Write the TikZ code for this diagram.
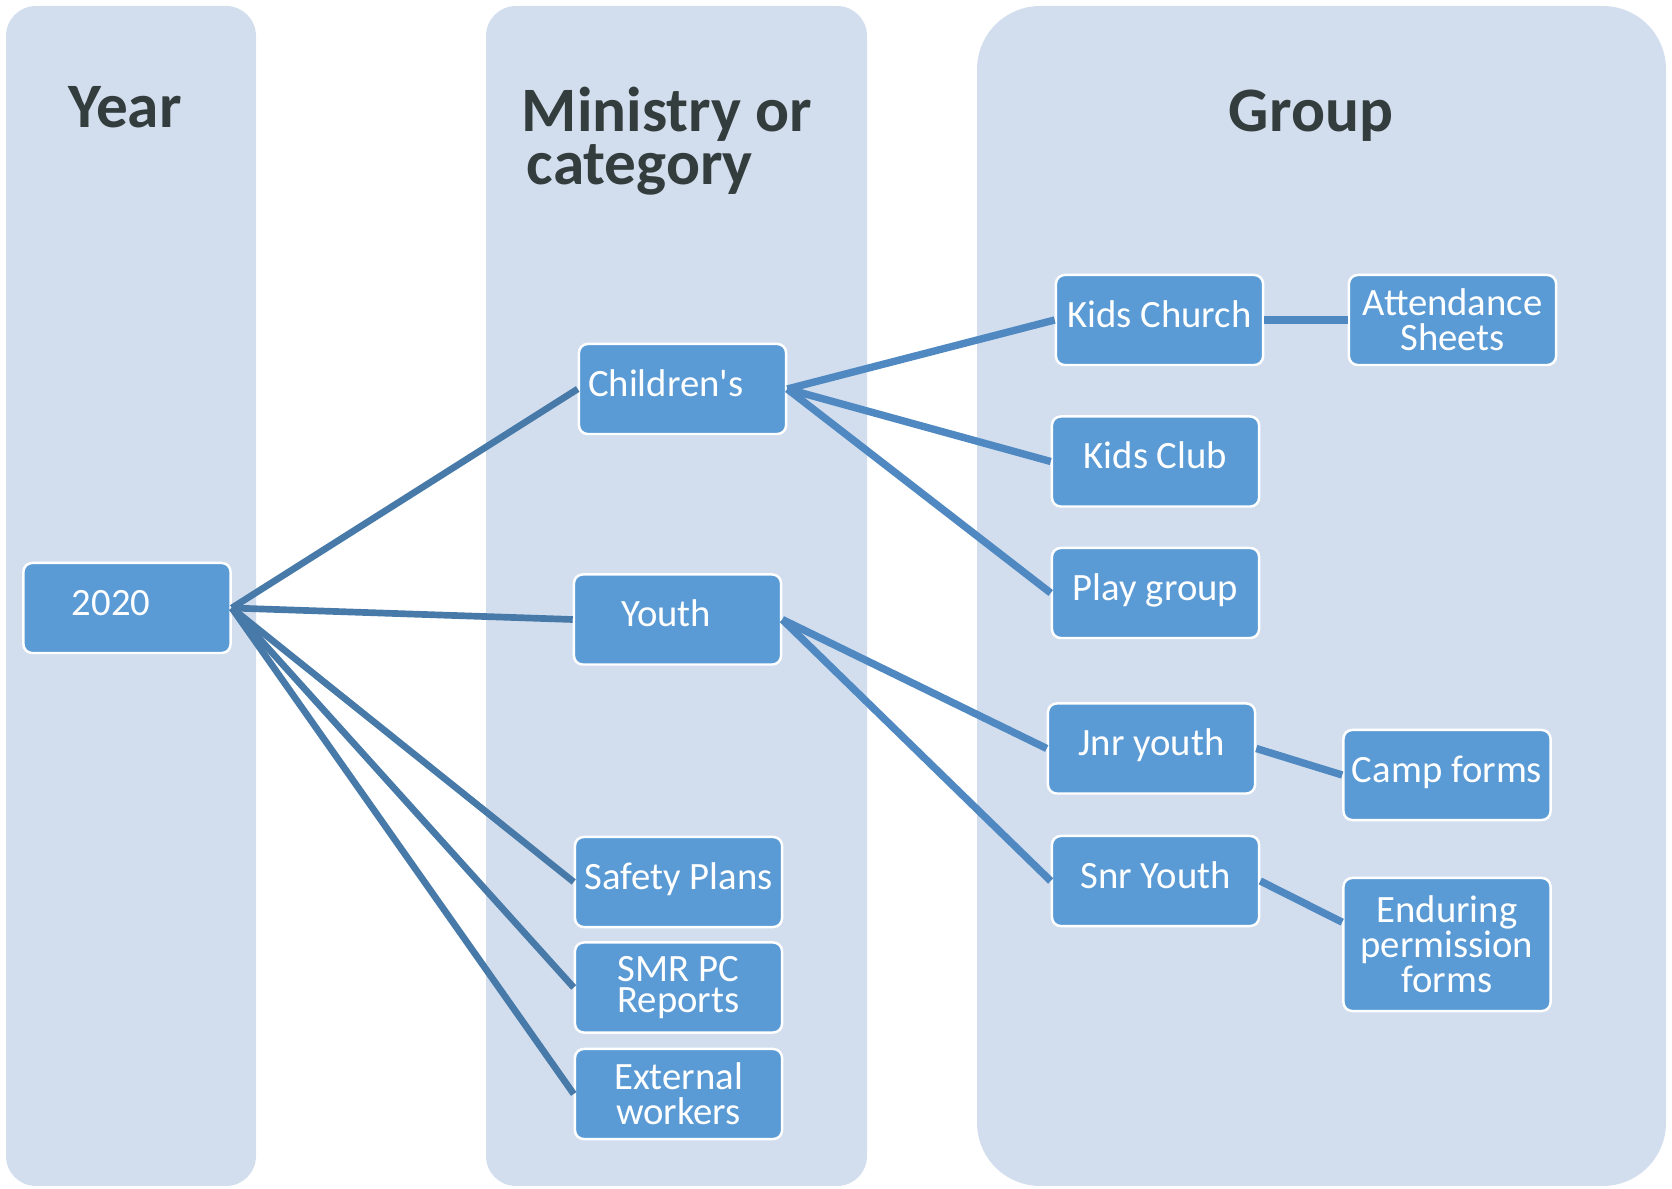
\documentclass[tikz,border=0pt]{standalone}
\usepackage{fontspec}
\setmainfont{Carlito}
\usetikzlibrary{positioning}

\definecolor{colfondo}{RGB}{210,222,238}
\definecolor{colcaja}{RGB}{91,155,213}
\definecolor{collinea}{RGB}{80,137,193}
\definecolor{collineaosc}{RGB}{71,122,168}
\definecolor{coltitulo}{RGB}{52,61,61}

\begin{document}
\begin{tikzpicture}[x=0.01cm, y=-0.01cm,
    caja/.style={draw=white, line width=0.7pt, fill=colcaja, rounded corners=2.5pt,
      minimum width=2.07cm, minimum height=0.9cm, inner sep=2pt, text=white,
      align=center, font=\fontsize{11}{10}\selectfont},
    linea/.style={text height=7.6pt, text depth=3.6pt},
    titulo/.style={text=coltitulo, inner sep=0pt, font=\fontsize{18}{13.3}\selectfont\bfseries},
    arista/.style={collinea, line width=2.1pt},
    aristaosc/.style={collineaosc, line width=1.9pt}]
            \useasboundingbox (0,0) rectangle (1672,1189);

            % Columnas
            \fill[colfondo, rounded corners=8.5pt] (6,6) rectangle (256,1186);
            \fill[colfondo, rounded corners=8.5pt] (486,6) rectangle (867,1186);
            \fill[colfondo, rounded corners=18pt] (977,6) rectangle (1666,1186);

            % Titulos
            \node[titulo, anchor=base] (tanio) at (125,128) {Year};
            \node[titulo, anchor=north west, align=left] (tmin) at (521,86) {Ministry or\\\hspace*{1.5pt}category};
            \node[titulo, anchor=base] (tgrupo) at (1311,132) {Group};

            % Nodos
            \node[caja, linea] (anio) at (127,608) {\hspace*{-9pt}2020};
            \node[caja, linea] (ninos) at (682.5,389) {\hspace*{-9.5pt}Children\textquotesingle s};
            \node[caja, linea] (jovenes) at (677.5,619.5) {\hspace*{-6.5pt}Youth};
            \node[caja, linea] (seguridad) at (678.5,882) {Safety Plans};
            \node[caja, font=\fontsize{11}{8.8}\selectfont] (smr) at (678.5,987.5) {SMR PC\\Reports};
            \node[caja] (externos) at (678.5,1094) {External\\workers};
            \node[caja, linea] (iglesia) at (1159.5,320) {Kids Church};
            \node[caja] (asistencia) at (1452.5,320) {Attendance\\Sheets};
            \node[caja, linea] (club) at (1155.5,461.5) {Kids Club};
            \node[caja, linea] (juego) at (1155.5,593) {Play group};
            \node[caja, linea] (jnr) at (1151.5,748.5) {Jnr youth};
            \node[caja, linea] (campamento) at (1447,775) {Camp forms};
            \node[caja, linea] (snr) at (1155.5,881) {Snr Youth};
            \node[caja, minimum height=1.33cm] (permisos) at (1447,944.5) {Enduring\\permission\\forms};

            % Aristas
            \draw[aristaosc] (anio.east) -- (ninos.west);
            \draw[aristaosc] (anio.east) -- (jovenes.west);
            \draw[aristaosc] (anio.east) -- (seguridad.west);
            \draw[aristaosc] (anio.east) -- (smr.west);
            \draw[aristaosc] (anio.east) -- (externos.west);
            \draw[arista] (ninos.east) -- (iglesia.west);
            \draw[arista] (ninos.east) -- (club.west);
            \draw[arista] (ninos.east) -- (juego.west);
            \draw[arista] (jovenes.east) -- (jnr.west);
            \draw[arista] (jovenes.east) -- (snr.west);
            \draw[arista, line width=2.3pt] (iglesia.east) -- (asistencia.west);
            \draw[arista] (jnr.east) -- (campamento.west);
            \draw[arista] (snr.east) -- (permisos.168);
          \end{tikzpicture}
\end{document}
